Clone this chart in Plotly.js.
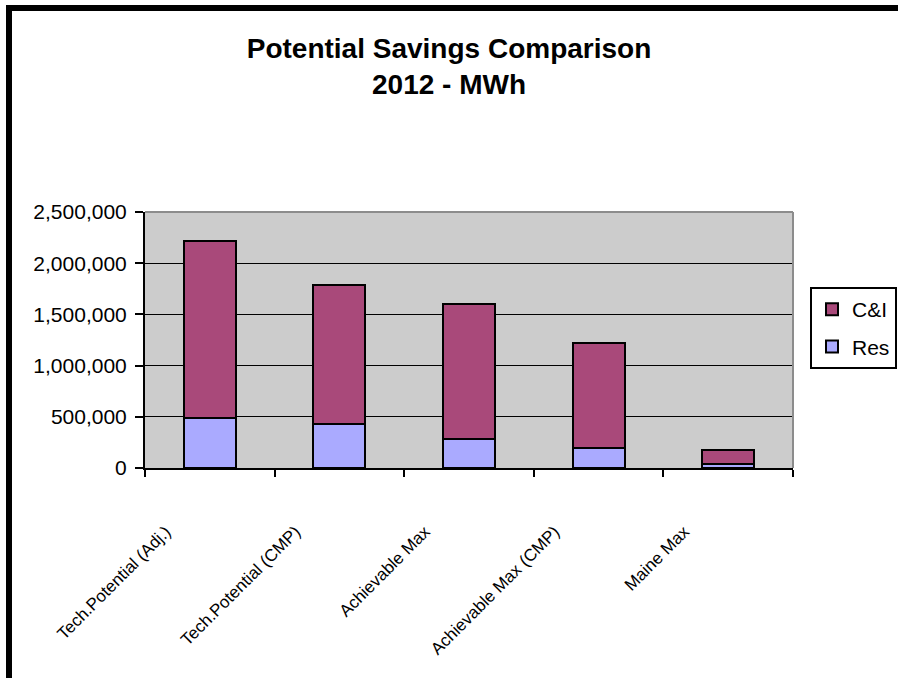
<!DOCTYPE html>
<html>
<head>
<meta charset="utf-8">
<script src="https://cdn.plot.ly/plotly-3.0.1.min.js"></script>
<style>
  html, body { margin: 0; padding: 0; background: #ffffff; }
  #chart { width: 898px; height: 678px; }
</style>
</head>
<body>
<div id="chart"></div>
<script>
// Savings scenarios (MWh, 2012)
const categories = [
  "Tech.Potential (Adj.)",
  "Tech.Potential (CMP)",
  "Achievable Max",
  "Achievable Max (CMP)",
  "Maine Max"
];
const resSavings = [487000, 428000, 288000, 193000, 39000];
const ciSavings = [1726000, 1356000, 1317000, 1023000, 135000];

const outline = { color: "#000000", width: 2 };

const traces = [
  {
    type: "bar",
    name: "Res",
    x: categories,
    y: resSavings,
    legendgroup: "res",
    legendrank: 2,
    marker: { color: "#aaaaff", line: outline },
    hoverinfo: "x+y+name"
  },
  {
    type: "bar",
    name: "C&I",
    x: categories,
    y: ciSavings,
    legendgroup: "ci",
    legendrank: 1,
    marker: { color: "#a9497a", line: outline },
    hoverinfo: "x+y+name"
  }
];

const layout = {
  width: 898,
  height: 678,
  margin: { l: 145, r: 105, t: 212, b: 210, autoexpand: false },
  paper_bgcolor: "#ffffff",
  plot_bgcolor: "#cccccc",
  barmode: "stack",
  bargap: 0.6,
  showlegend: true,
  font: { family: "Liberation Sans, Arial, sans-serif", color: "#000000" },
  title: {
    text: "<b>Potential Savings Comparison<br>2012 - MWh</b>",
    font: { family: "Liberation Sans, Arial, sans-serif", size: 28, color: "#000000" },
    x: 0.5,
    xref: "container",
    xanchor: "center",
    y: 1 - 58 / 678,
    yref: "container",
    yanchor: "top"
  },
  xaxis: {
    type: "category",
    tickson: "boundaries",
    ticks: "outside",
    ticklen: 7,
    tickwidth: 2,
    tickcolor: "#000000",
    showline: true,
    linecolor: "#000000",
    linewidth: 2,
    showgrid: false,
    tickangle: -45,
    ticklabelstandoff: 45,
    ticklabelshift: -44,
    tickfont: { family: "Liberation Sans, Arial, sans-serif", size: 17, color: "#000000" },
    fixedrange: true
  },
  yaxis: {
    range: [0, 2500000],
    tickvals: [0, 500000, 1000000, 1500000, 2000000, 2500000],
    tickformat: ",d",
    ticks: "outside",
    ticklen: 8,
    tickwidth: 2,
    tickcolor: "#000000",
    ticklabelstandoff: 4,
    showline: true,
    linecolor: "#000000",
    linewidth: 2,
    showgrid: true,
    gridcolor: "#000000",
    gridwidth: 1,
    zeroline: false,
    tickfont: { family: "Liberation Sans, Arial, sans-serif", size: 21, color: "#000000" },
    fixedrange: true
  },
  legend: {
    x: (810 - 145) / 648,
    xanchor: "left",
    y: (468 - 287) / 256,
    yanchor: "top",
    bgcolor: "#ffffff",
    bordercolor: "#000000",
    borderwidth: 2,
    traceorder: "grouped",
    tracegroupgap: 7,
    itemwidth: 30,
    font: { family: "Liberation Sans, Arial, sans-serif", size: 21, color: "#000000" }
  },
  shapes: [
    // grey plot-area edges on top and right
    { type: "line", xref: "paper", yref: "paper", x0: 0, x1: 1, y0: 1, y1: 1,
      line: { color: "#8c8c8c", width: 2 }, layer: "above" },
    { type: "line", xref: "paper", yref: "paper", x0: 1, x1: 1, y0: 0, y1: 1,
      line: { color: "#8c8c8c", width: 2 }, layer: "above" },
    // heavy frame around the chart sheet
    { type: "rect", xref: "paper", yref: "paper",
      x0: (9 - 145) / 648, x1: (920 - 145) / 648,
      y0: (468 - 700) / 256, y1: (468 - 8) / 256,
      line: { color: "#000000", width: 6 }, fillcolor: "rgba(0,0,0,0)", layer: "above" }
  ]
};

Plotly.newPlot("chart", traces, layout, { displayModeBar: false, staticPlot: true });
</script>
</body>
</html>
